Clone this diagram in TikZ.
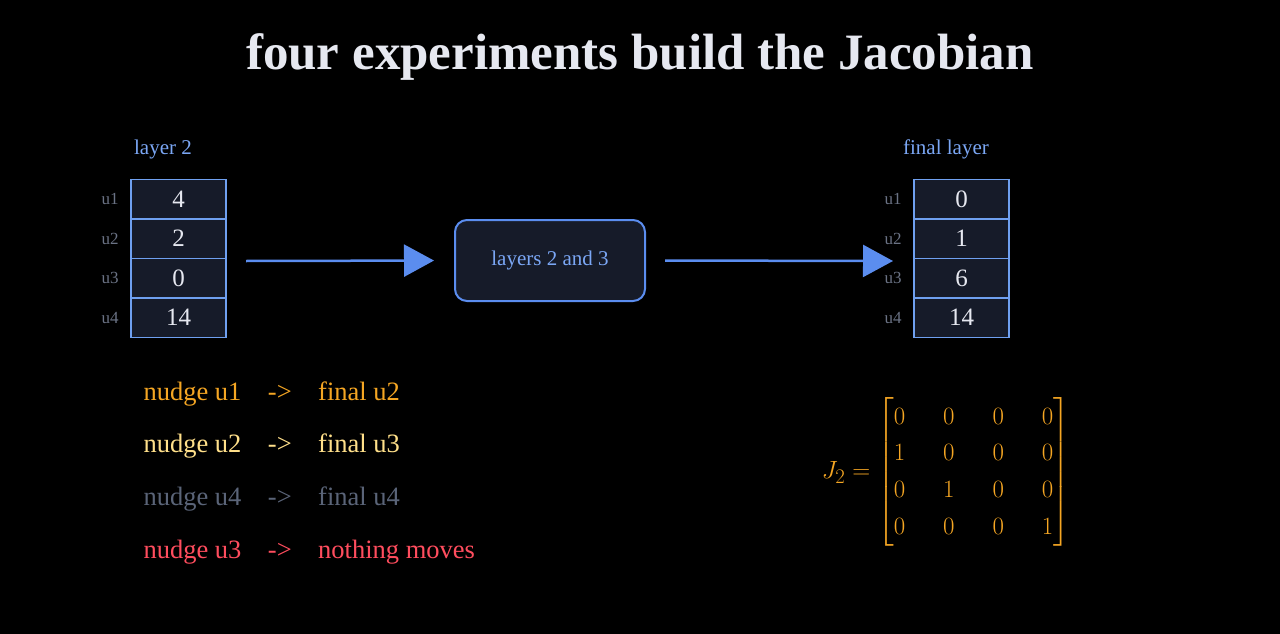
\documentclass[tikz,border=0pt]{standalone}
\usepackage{amsmath}
\usepackage{fontspec}
\setmainfont{Liberation Serif}
\usetikzlibrary{arrows.meta,positioning}
\definecolor{cellfill}{HTML}{161B29}
\definecolor{cellline}{HTML}{6FA0F0}
\definecolor{arrowblue}{HTML}{5B8DEF}
\definecolor{labelblue}{HTML}{7BA7F5}
\definecolor{numtext}{HTML}{E6E8F0}
\definecolor{unitgray}{HTML}{6B7385}
\definecolor{nudgeorange}{HTML}{F5A623}
\definecolor{nudgeyellow}{HTML}{FFE08A}
\definecolor{nudgegray}{HTML}{5A6478}
\definecolor{nudgered}{HTML}{FF4D5E}
\tikzset{
  cell/.style={draw=cellline, fill=cellfill, line width=1.5pt, minimum width=95pt,
    minimum height=39.5pt, inner sep=0pt, text=numtext, font=\fontsize{25}{28}\selectfont},
  unit/.style={text=unitgray, font=\fontsize{17}{20}\selectfont, left=8pt},
  head/.style={text=labelblue, font=\fontsize{21}{24}\selectfont},
  flow/.style={draw=arrowblue, line width=2.5pt, -{Triangle[length=30pt,width=32pt]}},
  nudge/.style={anchor=base west, font=\fontsize{26.5}{30}\selectfont}
}
\begin{document}
\begin{tikzpicture}[x=1pt,y=-1pt]
  \fill[black] (0,0) rectangle (1280,634);

  \node[text=numtext, font=\bfseries\fontsize{51}{56}\selectfont] (title) at (640,57) {four experiments build the Jacobian};

  % layer 2 column
  \node[head] (inhead) at (163,149) {layer 2};
  \foreach \v [count=\i] in {4,2,0,14} {
    \node[cell] (in\i) at (178.5,159.5+39.5*\i) {\v};
    \node[unit] at (in\i.west) {u\i};
  }

  % final layer column
  \node[head] (outhead) at (946,149) {final layer};
  \foreach \v [count=\i] in {0,1,6,14} {
    \node[cell] (out\i) at (961.5,159.5+39.5*\i) {\v};
    \node[unit] at (out\i.west) {u\i};
  }

  \node[draw=arrowblue, fill=cellfill, line width=2pt, rounded corners=12pt,
    minimum width=190pt, minimum height=81pt, text=labelblue,
    font=\fontsize{21}{24}\selectfont] (net) at (550,260.5) {layers 2 and 3};

  \coordinate (inR) at (246,261);
  \coordinate (outL) at (893,261);
  \draw[flow, shorten >=20pt] (inR) -- (net.west);
  \draw[flow, shorten <=19pt] (net.east) -- (outL);

  % experiments
  \node[nudge, text=nudgeorange] (e1) at (140,400) {nudge u1\quad->\quad final u2};
  \node[nudge, text=nudgeyellow] (e2) at (140,452) {nudge u2\quad->\quad final u3};
  \node[nudge, text=nudgegray]   (e3) at (140,505) {nudge u4\quad->\quad final u4};
  \node[nudge, text=nudgered]    (e4) at (140,558) {nudge u3\quad->\quad nothing moves};

  \node[text=nudgeorange, font=\fontsize{29}{34}\selectfont] (jac) at (946,472)
    {$J_2 = {\setlength{\arraycolsep}{19pt}\renewcommand{\arraystretch}{1.08}
      \begin{bmatrix}0&0&0&0\\1&0&0&0\\0&1&0&0\\0&0&0&1\end{bmatrix}}$};
\end{tikzpicture}
\end{document}
